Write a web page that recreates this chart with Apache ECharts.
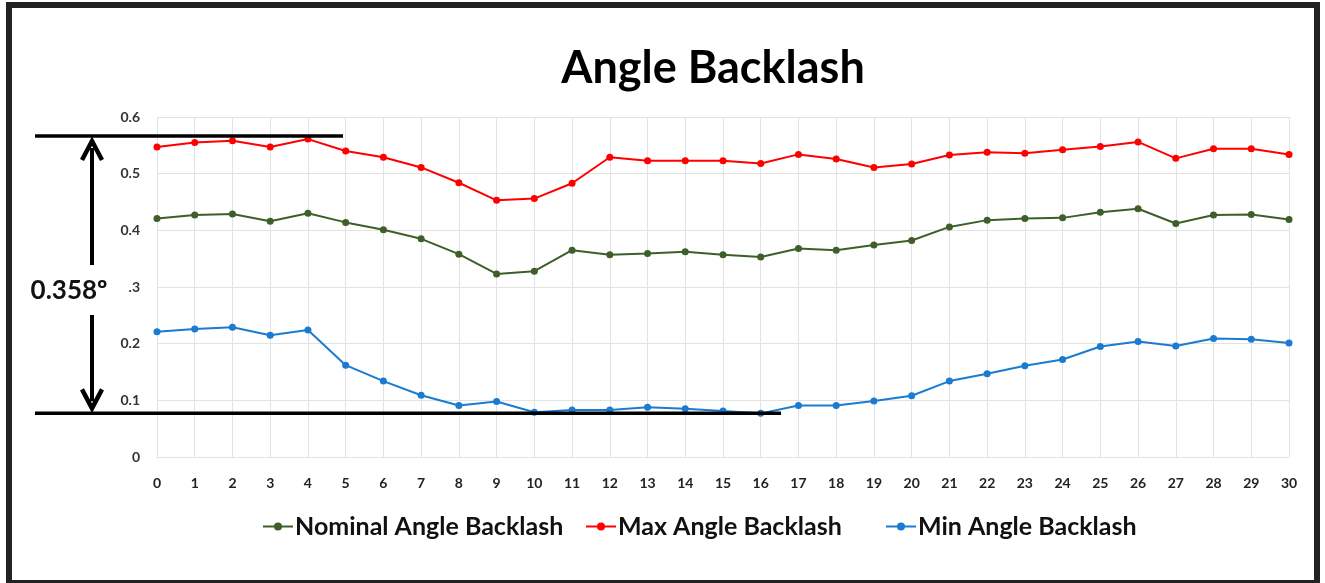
<!DOCTYPE html>
<html>
<head>
<meta charset="utf-8">
<script src="https://cdn.jsdelivr.net/npm/echarts@6/dist/echarts.min.js"></script>
<style>
  html, body { margin: 0; padding: 0; background: #fff; }
  #chart { width: 1325px; height: 583px; }
</style>
</head>
<body>
<div id="chart"></div>
<script>
// Angle Backlash chart data
const categories = ['0','1','2','3','4','5','6','7','8','9','10','11','12','13','14','15','16','17','18','19','20','21','22','23','24','25','26','27','28','29','30'];
const yTickLabels = ['0', '0.1', '0.2', '.3', '0.4', '0.5', '0.6'];
const seriesNames = ['Nominal Angle Backlash', 'Max Angle Backlash', 'Min Angle Backlash'];

const nominalBacklash = [0.421, 0.427, 0.429, 0.416, 0.430, 0.414, 0.401, 0.385, 0.358, 0.323, 0.328,
  0.365, 0.357, 0.359, 0.362, 0.357, 0.353, 0.368, 0.365, 0.374, 0.382,
  0.406, 0.418, 0.421, 0.422, 0.432, 0.438, 0.412, 0.427, 0.428, 0.419];
const maxBacklash = [0.547, 0.555, 0.558, 0.547, 0.561, 0.540, 0.529, 0.511, 0.484, 0.453, 0.456,
  0.483, 0.529, 0.523, 0.523, 0.523, 0.518, 0.534, 0.526, 0.511, 0.517,
  0.533, 0.538, 0.536, 0.542, 0.548, 0.556, 0.527, 0.544, 0.544, 0.534];
const minBacklash = [0.221, 0.226, 0.229, 0.215, 0.224, 0.162, 0.134, 0.109, 0.091, 0.098, 0.079,
  0.083, 0.083, 0.088, 0.085, 0.081, 0.077, 0.091, 0.091, 0.099, 0.108,
  0.134, 0.147, 0.161, 0.172, 0.195, 0.204, 0.196, 0.209, 0.208, 0.201];

// span annotation (value levels of the two black reference lines)
const spanTop = 0.5665;
const spanBottom = 0.0770;
const spanLabel = '0.358º';

const chart = echarts.init(document.getElementById('chart'));
const font = 'Lato, "Open Sans", sans-serif';

function makeSeries(name, data, color) {
  return {
    name: name,
    type: 'line',
    data: data,
    symbol: 'circle',
    symbolSize: 7,
    lineStyle: { color: color, width: 2 },
    itemStyle: { color: color },
    z: 3
  };
}

// one legend per entry so each sits where the original puts it
function makeLegend(name, left) {
  return {
    left: left,
    top: 509,
    itemWidth: 30,
    itemHeight: 10,
    textStyle: { fontSize: 25, fontWeight: 'bold', color: '#111', fontFamily: font, padding: [0, 0, 0, -3] },
    data: [name]
  };
}

const option = {
  backgroundColor: '#fff',
  animation: false,
  textStyle: { fontFamily: font },
  title: {
    text: 'Angle Backlash',
    left: 708,
    textAlign: 'center',
    top: 41,
    textStyle: { fontSize: 45, fontWeight: 'bold', color: '#000', fontFamily: font }
  },
  grid: { left: 157, right: 36, top: 117, bottom: 126 },
  legend: [
    makeLegend(seriesNames[0], 257),
    makeLegend(seriesNames[1], 580),
    makeLegend(seriesNames[2], 880)
  ],
  xAxis: {
    type: 'category',
    data: categories,
    boundaryGap: false,
    axisLine: { show: false },
    axisTick: { show: false },
    axisLabel: { interval: 0, margin: 19, fontSize: 14, fontWeight: 'bold', color: '#222', fontFamily: font },
    splitLine: { show: true, interval: 0, lineStyle: { color: '#e2e2e2', width: 1 } }
  },
  yAxis: {
    type: 'value',
    min: 0,
    max: 0.6,
    interval: 0.1,
    axisLine: { show: false },
    axisTick: { show: false },
    axisLabel: {
      margin: 17, fontSize: 14, fontWeight: 'bold', color: '#333', fontFamily: font,
      formatter: (v, i) => yTickLabels[i]
    },
    splitLine: { lineStyle: { color: '#e2e2e2', width: 1 } }
  },
  series: [
    makeSeries(seriesNames[0], nominalBacklash, '#3e5f2a'),
    makeSeries(seriesNames[1], maxBacklash, '#ff0000'),
    makeSeries(seriesNames[2], minBacklash, '#1a7bd0')
  ]
};

chart.setOption(option);

// annotation: reference lines, double arrow and span text
const yTop = chart.convertToPixel({ yAxisIndex: 0 }, spanTop);
const yBot = chart.convertToPixel({ yAxisIndex: 0 }, spanBottom);
const ax = 92;
const black = '#000';

chart.setOption({
  graphic: [
    { type: 'rect', shape: { x: 9, y: 5, width: 1308, height: 578 }, style: { fill: null, stroke: '#222', lineWidth: 6 }, z: 10 },
    { type: 'line', shape: { x1: 35, y1: yTop, x2: 343, y2: yTop }, style: { stroke: black, lineWidth: 3.5 }, z: 10 },
    { type: 'line', shape: { x1: 35, y1: yBot, x2: 781, y2: yBot }, style: { stroke: black, lineWidth: 3.5 }, z: 10 },
    { type: 'line', shape: { x1: ax, y1: yTop + 12, x2: ax, y2: 265 }, style: { stroke: black, lineWidth: 4 }, z: 10 },
    { type: 'line', shape: { x1: ax, y1: 315, x2: ax, y2: yBot - 12 }, style: { stroke: black, lineWidth: 4 }, z: 10 },
    { type: 'polyline', shape: { points: [[ax - 10, yTop + 24], [ax, yTop + 5], [ax + 10, yTop + 24]] }, style: { stroke: black, lineWidth: 4.5, fill: null }, z: 10 },
    { type: 'polyline', shape: { points: [[ax - 10, yBot - 24], [ax, yBot - 5], [ax + 10, yBot - 24]] }, style: { stroke: black, lineWidth: 4.5, fill: null }, z: 10 },
    { type: 'text', x: 69, y: 291, style: { text: spanLabel, font: 'bold 26px ' + font, fill: '#111', align: 'center', verticalAlign: 'middle' }, z: 10 }
  ]
});
</script>
</body>
</html>
